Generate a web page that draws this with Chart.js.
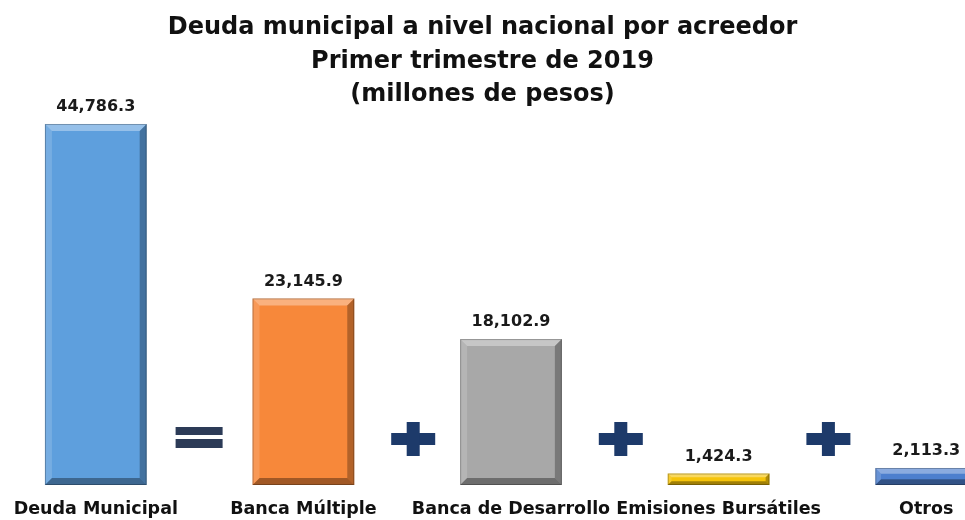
<!DOCTYPE html>
<html>
<head>
<meta charset="utf-8">
<script src="https://cdn.jsdelivr.net/npm/chart.js@4/dist/chart.umd.min.js"></script>
<style>
    html, body { margin: 0; padding: 0; background: #fff; }
    #wrap { position: relative; width: 965px; height: 520px; overflow: hidden; }
    #chart { position: absolute; left: -8px; top: 0; }
    #titulo {
        position: absolute; left: 0; top: 0; width: 965px;
        padding-top: 10px;
        text-align: center;
        font: bold 24px "DejaVu Sans", sans-serif;
        line-height: 33.5px;
        color: #111;
        z-index: 2;
    }
</style>
</head>
<body>
<div id="wrap">
    <canvas id="chart" width="1038" height="520"></canvas>
    <div id="titulo"></div>
</div>
<script>
// datos
const categorias = ['Deuda Municipal', 'Banca Múltiple', 'Banca de Desarrollo', 'Emisiones Bursátiles', 'Otros'];
const montos = [44786.3, 23145.9, 18102.9, 1424.3, 2113.3];
const colores = ['#5E9FDD', '#F7883A', '#A8A8A8', '#F6C40A', '#4D7FCE'];
// signo entre cada par de barras
const signos = ['=', '+', '+', '+'];
const tituloLineas = [
    'Deuda municipal a nivel nacional por acreedor',
    'Primer trimestre de 2019',
    '(millones de pesos)'
];

const FUENTE = '"DejaVu Sans", sans-serif';

document.getElementById('titulo').innerHTML = tituloLineas.join('<br>');

function formato(v) {
    return v.toLocaleString('en-US', { minimumFractionDigits: 1, maximumFractionDigits: 1 });
}

// barras con efecto biselado + etiquetas de valor
const biselPlugin = {
    id: 'bisel',
    afterDatasetsDraw(chart) {
        const ctx = chart.ctx;
        const meta = chart.getDatasetMeta(0);
        ctx.save();
        meta.data.forEach((bar, i) => {
            const l = bar.x - bar.width / 2;
            const r = bar.x + bar.width / 2;
            const t = bar.y;
            const b = bar.base;
            const h = b - t;
            const bv = Math.min(7, h / 3);

            const poly = (pts, color) => {
                ctx.beginPath();
                ctx.moveTo(pts[0][0], pts[0][1]);
                for (let k = 1; k < pts.length; k++) ctx.lineTo(pts[k][0], pts[k][1]);
                ctx.closePath();
                ctx.fillStyle = color;
                ctx.fill();
            };
            poly([[l, t], [r, t], [r - bv, t + bv], [l + bv, t + bv]], 'rgba(255,255,255,0.35)');
            poly([[l, t], [l + bv, t + bv], [l + bv, b - bv], [l, b]], 'rgba(255,255,255,0.15)');
            poly([[r, t], [r, b], [r - bv, b - bv], [r - bv, t + bv]], 'rgba(0,0,0,0.28)');
            poly([[l, b], [r, b], [r - bv, b - bv], [l + bv, b - bv]], 'rgba(0,0,0,0.35)');
            ctx.strokeStyle = 'rgba(0,0,0,0.25)';
            ctx.lineWidth = 1;
            ctx.strokeRect(l + 0.5, t + 0.5, bar.width - 1, h - 1);

            ctx.fillStyle = '#1a1a1a';
            ctx.font = 'bold 16px ' + FUENTE;
            ctx.textAlign = 'center';
            ctx.textBaseline = 'bottom';
            ctx.fillText(formato(montos[i]), bar.x, t - 9);
        });
        ctx.restore();
    }
};

// signos "=" y "+" entre las barras
const signosPlugin = {
    id: 'signos',
    afterDraw(chart) {
        const ctx = chart.ctx;
        const xs = chart.scales.x;
        const cy = chart.chartArea.bottom - 46;
        ctx.save();
        signos.forEach((s, i) => {
            const cx = (xs.getPixelForValue(i) + xs.getPixelForValue(i + 1)) / 2;
            if (s === '=') {
                ctx.fillStyle = '#2C3B57';
                ctx.fillRect(cx - 24, cy - 12, 47, 8);
                ctx.fillRect(cx - 24, cy, 47, 9);
            } else {
                ctx.fillStyle = '#1D3A6A';
                const x0 = cx + 6;
                ctx.fillRect(x0 - 22, cy - 6, 44, 12);
                ctx.fillRect(x0 - 6.5, cy - 17, 13, 34);
            }
        });
        ctx.restore();
    }
};

new Chart(document.getElementById('chart').getContext('2d'), {
    type: 'bar',
    data: {
        labels: categorias,
        datasets: [{
            data: montos,
            backgroundColor: colores,
            borderWidth: 0,
            categoryPercentage: 1,
            barPercentage: 0.49
        }]
    },
    options: {
        responsive: false,
        animation: false,
        layout: { padding: { top: 100 } },
        plugins: {
            legend: { display: false },
            tooltip: { enabled: false },
            title: { display: false }
        },
        scales: {
            x: {
                grid: { display: false, drawTicks: false },
                border: { display: false },
                ticks: {
                    color: '#111',
                    font: { family: FUENTE, size: 17.5, weight: 'bold' },
                    padding: 14,
                    autoSkip: false,
                    maxRotation: 0
                },
                afterFit(scale) {
                    scale.height = 35;
                }
            },
            y: {
                display: false,
                min: 0,
                max: 47760
            }
        }
    },
    plugins: [biselPlugin, signosPlugin]
});
</script>
</body>
</html>
